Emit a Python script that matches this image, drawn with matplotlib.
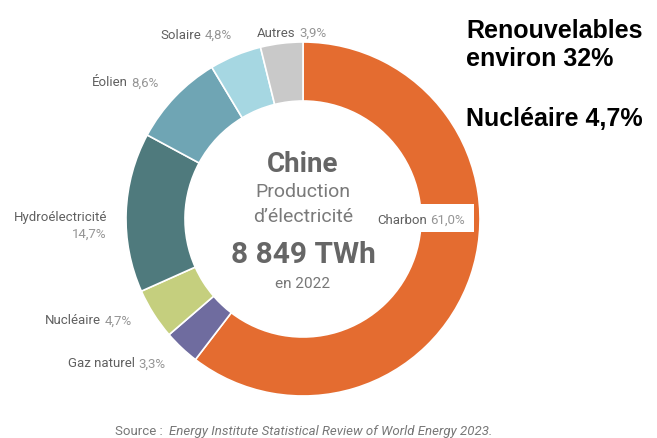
import matplotlib.pyplot as plt
from matplotlib.patches import Rectangle

plt.rcParams['font.family'] = ['Roboto', 'DejaVu Sans']

# data, clockwise from the top
sources = ["Charbon", "Gaz naturel", "Nucléaire", "Hydroélectricité", "Éolien", "Solaire", "Autres"]
shares = [61.0, 3.3, 4.7, 14.7, 8.6, 4.8, 3.9]
share_labels = ["61,0%", "3,3%", "4,7%", "14,7%", "8,6%", "4,8%", "3,9%"]
colors = ["#E46C30", "#6F6C9F", "#C5CF7E", "#4F7A7D", "#6FA5B4", "#A6D7E2", "#C9C9C9"]

W, H = 657, 439
fig = plt.figure(figsize=(W / 100, H / 100), dpi=100)
ax = fig.add_axes([0, 0, 1, 1])

def py(y):
    # pixel row (from top) -> data y
    return H - y

ax.pie(shares, colors=colors, startangle=90, counterclock=False,
       radius=177, center=(303, py(220)),
       wedgeprops=dict(width=59, edgecolor="white", linewidth=1.2))
ax.set_xlim(0, W)
ax.set_ylim(0, H)
ax.set_aspect("equal")
ax.axis("off")

name_col = "#606060"
pct_col = "#959595"
fs = 9.5

def label(x, y, name, pct):
    t = ax.text(x, py(y), name, fontsize=fs, color=name_col, ha="left", va="center", zorder=5)
    ax.annotate(pct, xy=(1, 0.5), xycoords=t, xytext=(2.5, 0), textcoords="offset points",
                fontsize=fs, color=pct_col, ha="left", va="center", zorder=5)
    return t

label(160, 35, sources[5], share_labels[5])
label(257, 33, sources[6], share_labels[6])
label(92, 83, sources[4], share_labels[4])
label(45, 321, sources[2], share_labels[2])
label(68, 364, sources[1], share_labels[1])

# white box behind the Charbon label, cutting into the ring
ax.add_patch(Rectangle((372, py(233)), 102, 28, facecolor="white", edgecolor="none", zorder=4))
label(377, 220, sources[0], share_labels[0])

# hydro label on two lines
ax.text(107, py(217), sources[3], fontsize=fs, color=name_col, ha="right", va="center")
ax.text(107, py(234), share_labels[3], fontsize=fs, color=pct_col, ha="right", va="center")

# centre text
ctr = "#666666"
ax.text(303, py(165), "Chine", fontsize=20, fontweight="bold", color=ctr, ha="center", va="center")
ax.text(303, py(192), "Production", fontsize=14, color="#7a7a7a", ha="center", va="center")
ax.text(303, py(217), "d’électricité", fontsize=14, color="#7a7a7a", ha="center", va="center")
ax.text(303, py(255), "8 849 TWh", fontsize=21.5, fontweight="bold", color=ctr, ha="center", va="center")
ax.text(303, py(284), "en 2022", fontsize=11, color="#777777", ha="center", va="center")

# source line
s = ax.text(115, py(432), "Source :  ", fontsize=9.5, color="#777777", ha="left", va="center")
ax.annotate("Energy Institute Statistical Review of World Energy 2023.", xy=(1, 0.5), xycoords=s,
            fontsize=9.5, color="#777777", style="italic", ha="left", va="center")

# annotations on the right
big = dict(fontsize=18, fontweight="bold", color="black", family=["Liberation Sans", "DejaVu Sans"],
           ha="left", va="center")
ax.text(466, py(31), "Renouvelables", **big)
ax.text(466, py(59), "environ 32%", **big)
ax.text(466, py(119), "Nucléaire 4,7%", **big)

fig.savefig("out.png", dpi=100)
